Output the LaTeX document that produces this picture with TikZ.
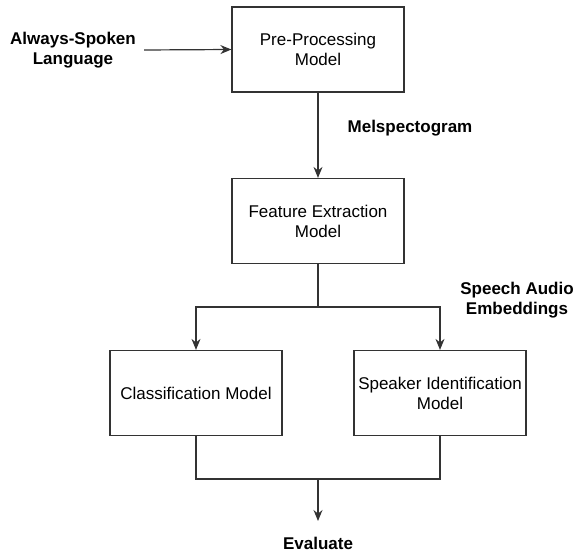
\documentclass[tikz,border=0pt]{standalone}
\usepackage{fontspec}
\setmainfont{Liberation Sans}
\usetikzlibrary{arrows.meta}
\begin{document}
\begin{tikzpicture}[x=1pt,y=-1pt,
  box/.style={draw=black!80, line width=1.2pt, minimum width=172pt, minimum height=85pt, align=center, font=\fontsize{17}{20}\selectfont, inner sep=0pt},
  lbl/.style={align=center, font=\bfseries\fontsize{17}{20}\selectfont, inner sep=0pt},
  conn/.style={draw=black!80, line width=1.2pt},
  arr/.style={conn, -{Stealth[length=11pt,width=9pt]}}]
\useasboundingbox (0,0) rectangle (574,553);
\node[box] (pre) at (318,49.5) {Pre-Processing\\Model};
\node[box] (feat) at (318,221) {Feature Extraction\\Model};
\node[box] (cls) at (196,393) {Classification Model};
\node[box] (spk) at (440,393) {Speaker Identification\\Model};
\node[lbl] (inp) at (73,50) {Always-Spoken\\Language};
\node[lbl] (mel) at (410,128) {Melspectogram};
\node[lbl] (emb) at (517,300) {Speech Audio\\Embeddings};
\node[lbl] (eval) at (318,543) {Evaluate};
\coordinate (split) at (318,307);
\coordinate (join) at (318,479);
\coordinate (end) at (318,521);
\draw[arr] (inp.east) ++(8,0) -- (pre.west);
\draw[arr] (pre) -- (feat);
\draw[conn] (feat.south) -- (split);
\draw[arr] (split) -| (cls.north);
\draw[arr] (split) -| (spk.north);
\draw[conn] (cls.south) |- (join) -| (spk.south);
\draw[arr] (join) -- (end);
\end{tikzpicture}
\end{document}
